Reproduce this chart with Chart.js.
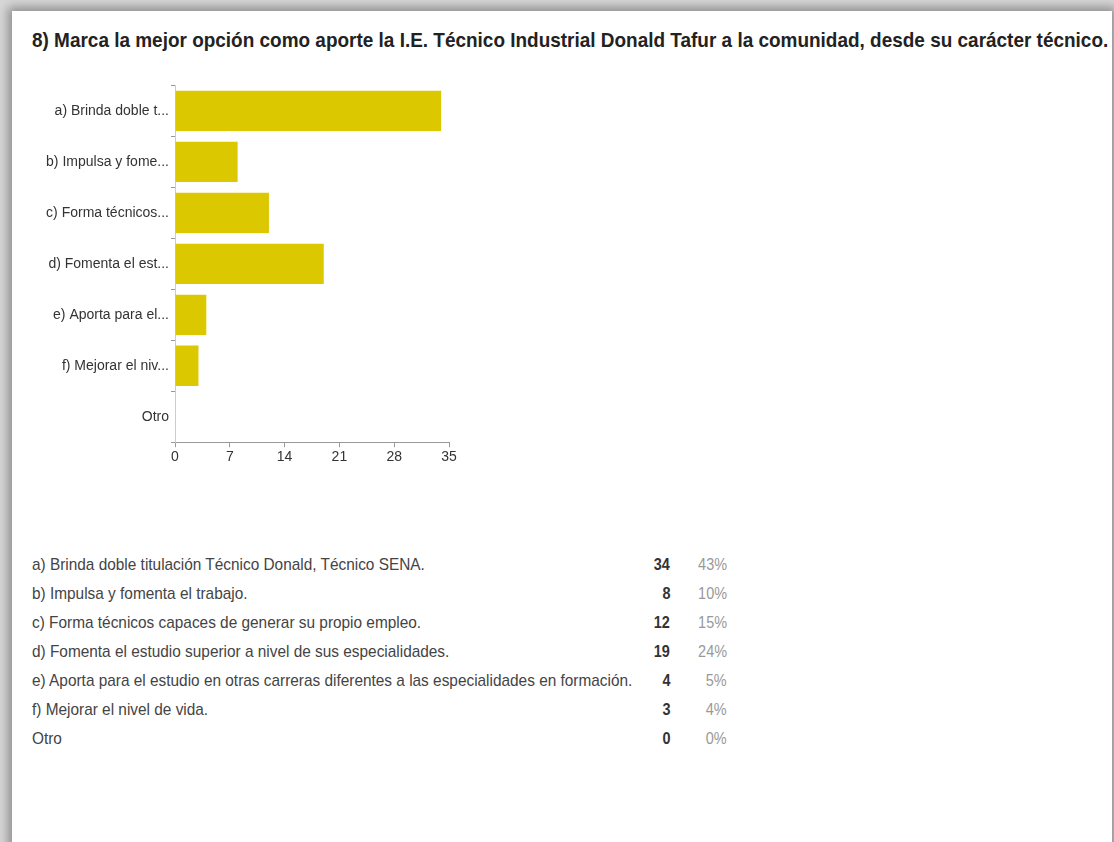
<!DOCTYPE html>
<html>
<head>
<meta charset="utf-8">
<script src="https://cdn.jsdelivr.net/npm/chart.js@4"></script>
<style>
  body { margin: 0; background: #d8d8d8; font-family: "Liberation Sans", Arial, sans-serif; }
  #card { position: absolute; left: 12px; top: 11px; width: 1100px; height: 840px; background: #fff; box-shadow: 0 0 10px 4px rgba(0,0,0,0.35); }
  #title { position: absolute; left: 20px; top: 17px; font-size: 21px; font-weight: bold; color: #222; white-space: nowrap; transform-origin: left top; }
  #wrap { position: absolute; left: 8px; top: 64px; width: 441px; height: 393px; }
  #summary { position: absolute; left: 20px; top: 539px; width: 695px; table-layout: fixed; border-collapse: collapse; font-size: 17px; color: #444; }
  #summary td { height: 29px; padding: 0; white-space: nowrap; overflow: visible; }
  #summary td.label span { display: inline-block; transform: scaleX(0.905); transform-origin: left center; }
  #summary td.count { text-align: right; font-weight: bold; color: #333; }
  #summary td.pct { text-align: right; color: #999; }
  #summary td.count span, #summary td.pct span { display: inline-block; transform: scaleX(0.85); transform-origin: right center; }
</style>
</head>
<body>
<div id="card">
  <div id="title">8) Marca la mejor opción como aporte la I.E. Técnico Industrial Donald Tafur a la comunidad, desde su carácter técnico.</div>
  <div id="wrap"><canvas id="surveyChart"></canvas></div>
  <table id="summary">
    <colgroup><col style="width:594px"><col style="width:44px"><col style="width:57px"></colgroup>
  </table>
</div>
<script>
const shortLabels = ['a) Brinda doble t...', 'b) Impulsa y fome...', 'c) Forma técnicos...', 'd) Fomenta el est...', 'e) Aporta para el...', 'f) Mejorar el niv...', 'Otro'];
const fullLabels = [
  'a) Brinda doble titulación Técnico Donald, Técnico SENA.',
  'b) Impulsa y fomenta el trabajo.',
  'c) Forma técnicos capaces de generar su propio empleo.',
  'd) Fomenta el estudio superior a nivel de sus especialidades.',
  'e) Aporta para el estudio en otras carreras diferentes a las especialidades en formación.',
  'f) Mejorar el nivel de vida.',
  'Otro'
];
const counts = [34, 8, 12, 19, 4, 3, 0];
const percents = ['43%', '10%', '15%', '24%', '5%', '4%', '0%'];
const xTicks = [0, 7, 14, 21, 28, 35];

fitTitle();
buildTable();
createSurveyChart();

function fitTitle() {
  // squeeze the title to the narrow width it has in the screenshot
  const title = document.getElementById('title');
  title.style.transform = 'scaleX(' + (1076 / title.offsetWidth) + ')';
}

function buildTable() {
  const table = document.getElementById('summary');
  fullLabels.forEach(function (label, i) {
    const row = table.insertRow();
    const c1 = row.insertCell(); c1.innerHTML = '<span></span>'; c1.firstChild.textContent = label; c1.className = 'label';
    const c2 = row.insertCell(); c2.innerHTML = '<span>' + counts[i] + '</span>'; c2.className = 'count';
    const c3 = row.insertCell(); c3.innerHTML = '<span>' + percents[i] + '</span>'; c3.className = 'pct';
  });
}

function createSurveyChart() {
  const ctx = document.getElementById('surveyChart').getContext('2d');
  const surveyChart = new Chart(ctx, {
    type: 'bar',
    data: {
      labels: shortLabels,
      datasets: [{
        label: 'Respuestas',
        data: counts,
        backgroundColor: '#dcc800',
        barPercentage: 0.79,
        categoryPercentage: 1
      }]
    },
    options: {
      indexAxis: 'y',
      responsive: true,
      maintainAspectRatio: false,
      animation: false,
      layout: { padding: { top: 8, right: 12 } },
      plugins: {
        legend: { display: false },
        tooltip: { enabled: false }
      },
      scales: {
        x: {
          min: 0,
          max: 35,
          afterBuildTicks: function (scale) { scale.ticks = xTicks.map(function (v) { return { value: v }; }); },
          grid: { drawOnChartArea: false, color: '#999', tickLength: 5 },
          border: { color: '#999' },
          ticks: { color: '#333', font: { family: 'Liberation Sans', size: 14 }, padding: 2, maxRotation: 0 }
        },
        y: {
          afterFit: function (scale) { scale.width = 155; },
          grid: { drawOnChartArea: false, color: '#999', tickLength: 4 },
          border: { color: '#ccc' },
          ticks: { color: '#333', font: { family: 'Liberation Sans', size: 14 }, padding: 2 }
        }
      }
    }
  });
}
</script>
</body>
</html>
